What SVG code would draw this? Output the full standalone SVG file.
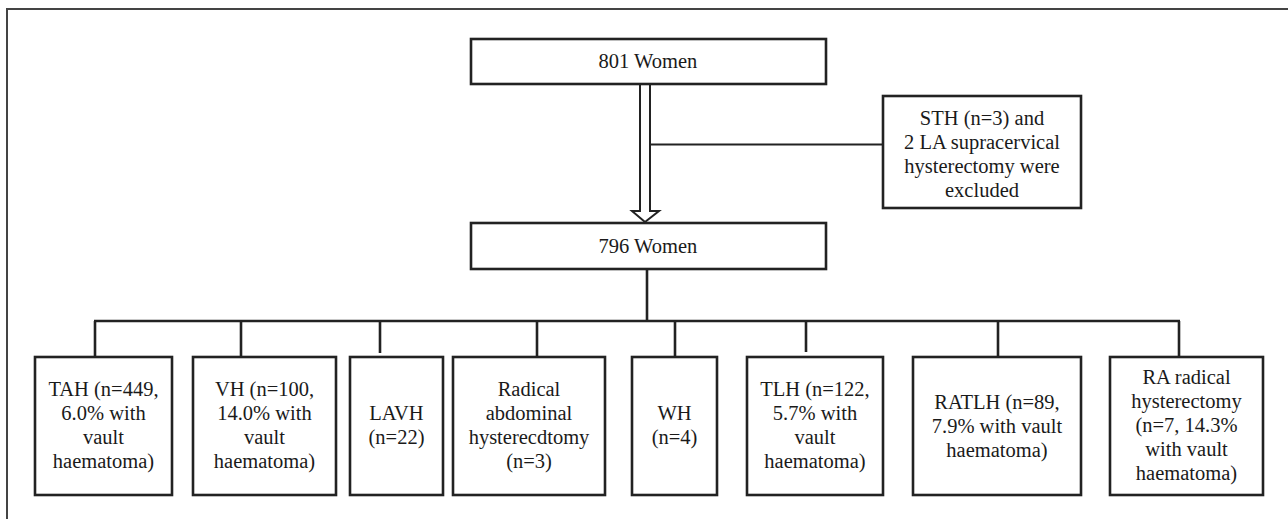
<svg xmlns="http://www.w3.org/2000/svg" width="1288" height="519" viewBox="0 0 1288 519">
<style>
.box{fill:#fff;stroke:#222;stroke-width:2.6}
.ln{fill:none;stroke:#222;stroke-width:2.6}
.thin{fill:none;stroke:#222;stroke-width:2}
.frame{fill:none;stroke:#444;stroke-width:2}
text{font-family:"Times New Roman",Times,"Liberation Serif","Noto Serif","DejaVu Serif",Tinos,serif;font-size:20.5px;fill:#1a1a1a;text-anchor:middle}
</style>
<rect width="1288" height="519" fill="#fff"/>
<path class="frame" d="M7,530 V9 H1300"/>
<g id="connectors">
<path class="thin" d="M640,84 V211 H632 L645,222 L659,211 H650 V84" fill="#fff"/>
<path class="thin" d="M650,144.5 H883"/>
<path class="ln" d="M647,269 V321"/>
<path class="ln" d="M94,321 H1180"/>
<path class="ln" d="M95,321 V357"/>
<path class="ln" d="M241,321 V357"/>
<path class="ln" d="M380,321 V353"/>
<path class="ln" d="M537,321 V357"/>
<path class="ln" d="M675,321 V357"/>
<path class="ln" d="M806,321 V352"/>
<path class="ln" d="M998,321 V357"/>
<path class="ln" d="M1179,321 V357"/>
</g>
<g id="n801"><rect class="box" x="471" y="39" width="355" height="45"/><text x="648" y="68">801 Women</text></g>
<g id="excluded"><rect class="box" x="883" y="96" width="198" height="112"/><text x="982" y="125">STH (n=3) and</text><text x="982" y="149">2 LA supracervical</text><text x="982" y="173">hysterectomy were</text><text x="982" y="197">excluded</text></g>
<g id="n796"><rect class="box" x="471" y="223" width="355" height="46"/><text x="648" y="253">796 Women</text></g>
<g id="tah"><rect class="box" x="35" y="357" width="137" height="138"/><text x="103.5" y="396">TAH (n=449,</text><text x="103.5" y="420">6.0% with</text><text x="103.5" y="444">vault</text><text x="103.5" y="468">haematoma)</text></g>
<g id="vh"><rect class="box" x="193" y="357" width="143" height="138"/><text x="264.5" y="396">VH (n=100,</text><text x="264.5" y="420">14.0% with</text><text x="264.5" y="444">vault</text><text x="264.5" y="468">haematoma)</text></g>
<g id="lavh"><rect class="box" x="350" y="357" width="93" height="138"/><text x="396.5" y="420">LAVH</text><text x="396.5" y="444">(n=22)</text></g>
<g id="radical"><rect class="box" x="453" y="357" width="152" height="138"/><text x="529" y="396">Radical</text><text x="529" y="420">abdominal</text><text x="529" y="444">hysterecdtomy</text><text x="529" y="468">(n=3)</text></g>
<g id="wh"><rect class="box" x="632" y="357" width="85" height="138"/><text x="674.5" y="420">WH</text><text x="674.5" y="444">(n=4)</text></g>
<g id="tlh"><rect class="box" x="747" y="357" width="136" height="138"/><text x="815" y="396">TLH (n=122,</text><text x="815" y="420">5.7% with</text><text x="815" y="444">vault</text><text x="815" y="468">haematoma)</text></g>
<g id="ratlh"><rect class="box" x="913" y="357" width="168" height="138"/><text x="997" y="409">RATLH (n=89,</text><text x="997" y="433">7.9% with vault</text><text x="997" y="457">haematoma)</text></g>
<g id="ra"><rect class="box" x="1110" y="357" width="153" height="138"/><text x="1186.5" y="384">RA radical</text><text x="1186.5" y="408">hysterectomy</text><text x="1186.5" y="432">(n=7, 14.3%</text><text x="1186.5" y="456">with vault</text><text x="1186.5" y="480">haematoma)</text></g>
</svg>
